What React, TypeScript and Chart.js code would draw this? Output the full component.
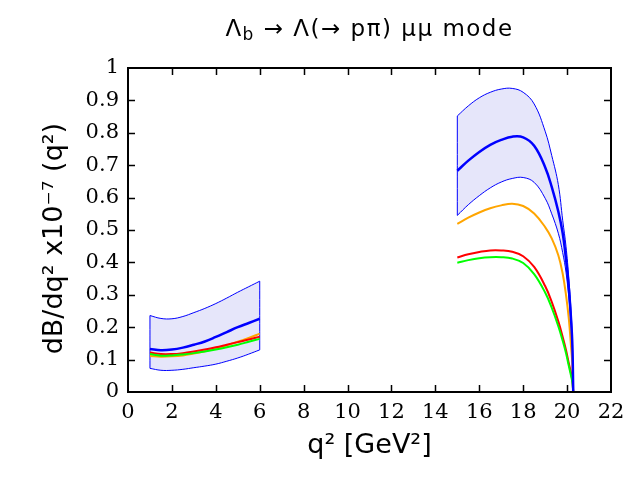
import { useEffect, useRef } from 'react';
import { Chart, registerables, type Plugin } from 'chart.js';

Chart.register(...registerables);

const BLUE = '#0000ff';
const ORANGE = '#ffa500';
const RED = '#ff0000';
const GREEN = '#00ff00';
const BAND_FILL = '#e6e6fa';
const SANS = '"DejaVu Sans", sans-serif';
const SERIF = '"DejaVu Serif", serif';
const TICK_LEN = 7;

// low q^2 window
const LOW_Q2 = [1, 1.5, 2, 2.5, 3, 3.5, 4, 4.5, 5, 5.5, 6];
const LOW_BAND_UP = [0.236, 0.227, 0.226, 0.233, 0.245, 0.258, 0.273, 0.29, 0.308, 0.325, 0.342];
const LOW_BAND_DN = [0.073, 0.067, 0.067, 0.07, 0.075, 0.08, 0.086, 0.095, 0.105, 0.117, 0.13];
const LOW_CENTRAL = [0.133, 0.129, 0.131, 0.137, 0.146, 0.156, 0.17, 0.185, 0.2, 0.213, 0.226];
const LOW_ORANGE = [0.111, 0.109, 0.11, 0.113, 0.119, 0.126, 0.134, 0.144, 0.155, 0.167, 0.18];
const LOW_RED = [0.122, 0.117, 0.117, 0.12, 0.125, 0.131, 0.138, 0.146, 0.154, 0.162, 0.171];
const LOW_GREEN = [0.117, 0.112, 0.113, 0.116, 0.12, 0.125, 0.131, 0.138, 0.146, 0.155, 0.164];

// high q^2 window, up to the kinematic endpoint
const HIGH_Q2 = [15, 15.5, 16, 16.5, 17, 17.5, 18, 18.5, 19, 19.3, 19.6, 19.8, 19.95, 20.08, 20.18, 20.24, 20.28];
const HIGH_BAND_UP = [0.852, 0.883, 0.908, 0.925, 0.935, 0.937, 0.925, 0.889, 0.805, 0.73, 0.64, 0.53, 0.45, 0.35, 0.25, 0.16, 0];
const HIGH_BAND_DN = [0.545, 0.578, 0.606, 0.63, 0.648, 0.659, 0.662, 0.647, 0.598, 0.55, 0.49, 0.43, 0.37, 0.29, 0.205, 0.13, 0];
const HIGH_CENTRAL = [0.683, 0.714, 0.741, 0.763, 0.778, 0.788, 0.786, 0.76, 0.694, 0.633, 0.557, 0.49, 0.41, 0.32, 0.225, 0.145, 0];
const HIGH_ORANGE = [0.519, 0.538, 0.554, 0.567, 0.576, 0.581, 0.574, 0.551, 0.509, 0.474, 0.422, 0.365, 0.3, 0.225, 0.14, 0.085, 0];
const HIGH_RED = [0.415, 0.425, 0.432, 0.437, 0.437, 0.433, 0.419, 0.386, 0.327, 0.278, 0.218, 0.17, 0.13, 0.088, 0.058, 0.035, 0];
const HIGH_GREEN = [0.399, 0.407, 0.413, 0.416, 0.416, 0.412, 0.398, 0.364, 0.307, 0.26, 0.203, 0.158, 0.12, 0.08, 0.05, 0.03, 0];

const TITLE_HEAD = 'Λ';
const TITLE_SUB = 'b';
const TITLE_TAIL = ' → Λ(→ pπ) μμ mode';
const X_TITLE = 'q² [GeV²]';
// trailing spaces nudge the centred label down a little, as in the original
const Y_TITLE = 'dB/dq² x10⁻⁷ (q²)  ';

const pts = (xs: number[], ys: number[]) => xs.map((x, i) => ({ x, y: ys[i] }));
const edge = (x: number, lo: number, hi: number) => [{ x, y: lo }, { x, y: hi }];

const line = (data: { x: number; y: number }[], color: string, width: number, order: number) => ({
  data,
  borderColor: color,
  borderWidth: width,
  pointRadius: 0,
  fill: false as const,
  tension: 0.4,
  order,
});

// gnuplot-like frame with inward ticks on all four sides
const frameTicks: Plugin<'line'> = {
  id: 'frameTicks',
  afterDatasetsDraw(chart) {
    const { ctx, chartArea: { left, right, top, bottom }, scales: { x, y } } = chart;
    ctx.save();
    ctx.strokeStyle = '#000';
    ctx.lineWidth = 1.5;
    ctx.beginPath();
    x.ticks.forEach((t) => {
      const px = Math.round(x.getPixelForValue(t.value)) + 0.5;
      if (px <= left + 2 || px >= right - 2) return;
      ctx.moveTo(px, bottom); ctx.lineTo(px, bottom - TICK_LEN);
      ctx.moveTo(px, top); ctx.lineTo(px, top + TICK_LEN);
    });
    y.ticks.forEach((t) => {
      const py = Math.round(y.getPixelForValue(t.value)) + 0.5;
      if (py <= top + 2 || py >= bottom - 2) return;
      ctx.moveTo(left, py); ctx.lineTo(left + TICK_LEN, py);
      ctx.moveTo(right, py); ctx.lineTo(right - TICK_LEN, py);
    });
    ctx.stroke();
    ctx.lineWidth = 2;
    ctx.strokeRect(left, top, right - left, bottom - top);
    ctx.restore();
  },
};

// title with a subscript, which the built-in title can't do
const subTitle: Plugin<'line'> = {
  id: 'subTitle',
  afterDraw(chart) {
    const { ctx, chartArea } = chart;
    const big = `23px ${SANS}`;
    const small = `17px ${SANS}`;
    ctx.save();
    ctx.fillStyle = '#000';
    ctx.textBaseline = 'alphabetic';
    (ctx as any).letterSpacing = '1.5px';
    ctx.font = big;
    const wHead = ctx.measureText(TITLE_HEAD).width;
    const wTail = ctx.measureText(TITLE_TAIL).width;
    ctx.font = small;
    const wSub = ctx.measureText(TITLE_SUB).width;
    let x0 = (chartArea.left + chartArea.right) / 2 - (wHead + wSub + wTail) / 2;
    const base = 36;
    ctx.font = big;
    ctx.fillText(TITLE_HEAD, x0, base);
    x0 += wHead;
    ctx.font = small;
    ctx.fillText(TITLE_SUB, x0, base + 4);
    x0 += wSub;
    ctx.font = big;
    ctx.fillText(TITLE_TAIL, x0, base);
    ctx.restore();
  },
};

export default function App() {
  const canvasRef = useRef<HTMLCanvasElement>(null);

  useEffect(() => {
    if (!canvasRef.current) return;
    const chart = new Chart(canvasRef.current, {
      type: 'line',
      data: {
        datasets: [
          { ...line(pts(LOW_Q2, LOW_BAND_UP), BLUE, 1, 5), fill: '+1', backgroundColor: BAND_FILL },
          line(pts(LOW_Q2, LOW_BAND_DN), BLUE, 1, 5),
          { ...line(pts(HIGH_Q2, HIGH_BAND_UP), BLUE, 1, 5), fill: '+1', backgroundColor: BAND_FILL },
          line(pts(HIGH_Q2, HIGH_BAND_DN), BLUE, 1, 5),
          line(edge(LOW_Q2[0], LOW_BAND_DN[0], LOW_BAND_UP[0]), BLUE, 1, 5),
          line(edge(LOW_Q2[LOW_Q2.length - 1], LOW_BAND_DN[LOW_BAND_DN.length - 1], LOW_BAND_UP[LOW_BAND_UP.length - 1]), BLUE, 1, 5),
          line(edge(HIGH_Q2[0], HIGH_BAND_DN[0], HIGH_BAND_UP[0]), BLUE, 1, 5),
          line(pts(LOW_Q2, LOW_ORANGE), ORANGE, 2, 4),
          line(pts(HIGH_Q2, HIGH_ORANGE), ORANGE, 2, 4),
          line(pts(LOW_Q2, LOW_RED), RED, 2, 3),
          line(pts(HIGH_Q2, HIGH_RED), RED, 2, 3),
          line(pts(LOW_Q2, LOW_GREEN), GREEN, 2, 2),
          line(pts(HIGH_Q2, HIGH_GREEN), GREEN, 2, 2),
          line(pts(LOW_Q2, LOW_CENTRAL), BLUE, 2.5, 1),
          line(pts(HIGH_Q2, HIGH_CENTRAL), BLUE, 2.5, 1),
        ],
      },
      options: {
        animation: false,
        responsive: true,
        maintainAspectRatio: false,
        layout: { padding: { top: 68, right: 29, left: 0, bottom: 0 } },
        plugins: {
          legend: { display: false },
          tooltip: { enabled: false },
          title: { display: false },
          filler: { propagate: false, drawTime: 'beforeDatasetsDraw' },
        },
        scales: {
          x: {
            type: 'linear',
            min: 0,
            max: 22,
            grid: { display: false, drawTicks: false },
            border: { display: false },
            ticks: {
              stepSize: 2,
              color: '#000',
              padding: 8,
              maxRotation: 0,
              font: { family: SERIF, size: 21 },
              callback: (v) => String(v),
            },
            title: {
              display: true,
              text: X_TITLE,
              color: '#000',
              font: { family: SANS, size: 27 },
              padding: { top: 0, bottom: 18 },
            },
            afterFit: (s) => { s.height = 88; },
          },
          y: {
            type: 'linear',
            min: 0,
            max: 1,
            grid: { display: false, drawTicks: false },
            border: { display: false },
            ticks: {
              stepSize: 0.1,
              color: '#000',
              padding: 9,
              font: { family: SERIF, size: 21 },
              callback: (v) => String(Math.round(Number(v) * 10) / 10),
            },
            title: {
              display: true,
              text: Y_TITLE,
              color: '#000',
              font: { family: SANS, size: 27 },
              padding: { top: 39, bottom: 0 },
            },
            afterFit: (s) => { s.width = 128; },
          },
        },
      },
      plugins: [frameTicks, subTitle],
    });
    return () => { chart.destroy(); };
  }, []);

  return (
    <div style={{ position: 'absolute', left: 0, top: 0, width: 640, height: 480 }}>
      <canvas ref={canvasRef} />
    </div>
  );
}
